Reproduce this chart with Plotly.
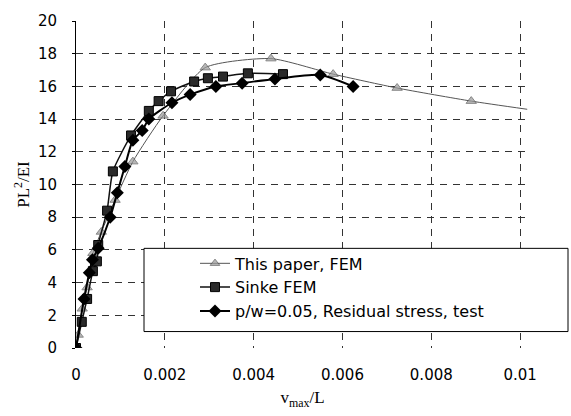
import plotly.graph_objects as go

# This paper, FEM (triangles)
tri_v = [0, 0.00005, 0.00014, 0.00025, 0.00038, 0.00057, 0.00088, 0.00128, 0.00196,
         0.00291, 0.00439, 0.00579, 0.00723, 0.0089, 0.01016]
tri_p = [0, 0.8, 2.4, 3.7, 5.8, 7.1, 9.05, 11.4, 14.2,
         17.15, 17.7, 16.75, 15.9, 15.1, 14.6]

# Sinke FEM (squares)
sq_v = [0, 0.00013, 0.00025, 0.00038, 0.00047, 0.0005, 0.0007, 0.00083, 0.00124,
        0.00164, 0.00186, 0.00214, 0.00266, 0.00297, 0.00331, 0.00387, 0.00466]
sq_p = [0, 1.6, 3.0, 4.7, 5.3, 6.3, 8.4, 10.8, 13.0,
        14.5, 15.1, 15.7, 16.3, 16.5, 16.6, 16.8, 16.75]

# p/w=0.05, Residual stress, test (diamonds)
dm_v = [0, 0.00018, 0.0003, 0.00037, 0.0005, 0.00077, 0.00093, 0.0011, 0.00128,
        0.00149, 0.00164, 0.00216, 0.00257, 0.00315, 0.00374, 0.00448, 0.0055, 0.00624]
dm_p = [0, 3.0, 4.6, 5.4, 6.1, 8.0, 9.5, 11.1, 12.7,
        13.3, 14.0, 15.0, 15.5, 16.0, 16.2, 16.45, 16.7, 16.0]

names = ["This paper, FEM", "Sinke FEM", "p/w=0.05, Residual stress, test"]
x_ticks = [0, 0.002, 0.004, 0.006, 0.008, 0.01]
x_tick_text = ["0", "0.002", "0.004", "0.006", "0.008", "0.01"]
y_ticks = list(range(0, 21, 2))

fig = go.Figure()
tri_sizes = [9] * (len(tri_v) - 1) + [0]
fig.add_trace(go.Scatter(
    x=tri_v, y=tri_p, name=names[0], mode="lines+markers",
    line=dict(color="#555555", width=1, shape="spline", smoothing=0.6),
    marker=dict(symbol="triangle-up", size=tri_sizes, color="#9a9a9a",
                line=dict(color="#555555", width=1)),
))
fig.add_trace(go.Scatter(
    x=sq_v, y=sq_p, name=names[1], mode="lines+markers",
    line=dict(color="#111111", width=1.5, shape="spline", smoothing=0.6),
    marker=dict(symbol="square", size=9, color="#2a2a2a",
                line=dict(color="#000000", width=1)),
))
fig.add_trace(go.Scatter(
    x=dm_v, y=dm_p, name=names[2], mode="lines+markers",
    line=dict(color="#000000", width=2, shape="spline", smoothing=0.6),
    marker=dict(symbol="diamond", size=10, color="#000000"),
))

L, R, T, B = 76, 42, 12, 66
W, H = 571, 416
pw = W - L - R
ph = H - T - B

def px_x(p):
    return (p - L) / pw

def px_y(p):
    return (H - B - p) / ph

fig.add_shape(type="rect", xref="paper", yref="paper",
              x0=px_x(144), x1=px_x(568), y0=px_y(333), y1=px_y(247),
              fillcolor="white", line=dict(color="black", width=1), layer="above")

grid = dict(showgrid=True, gridcolor="#333333", gridwidth=1, griddash="7px,6px")

fig.update_layout(
    width=W, height=H,
    margin=dict(l=L, r=R, t=T, b=B, pad=0),
    paper_bgcolor="white", plot_bgcolor="white",
    font=dict(family="DejaVu Sans", size=15, color="black"),
    showlegend=True,
    legend=dict(x=px_x(195), y=px_y(245), xanchor="left", yanchor="top",
                bgcolor="rgba(0,0,0,0)", borderwidth=0,
                font=dict(family="DejaVu Sans", size=16, color="black"),
                tracegroupgap=0),
    xaxis=dict(range=[0, 0.0102], tickvals=x_ticks, ticktext=x_tick_text,
               showline=False, zeroline=False, ticks="", ticklabelstandoff=16,
               title=dict(text="v<sub>max</sub>/L", standoff=8,
                          font=dict(family="Liberation Serif", size=17)),
               **grid),
    yaxis=dict(range=[0, 20], tickvals=y_ticks, showline=True, linecolor="black",
               linewidth=1, zeroline=False, ticks="outside", ticklen=3,
               tickcolor="black", ticklabelstandoff=12,
               title=dict(text="PL<sup>2</sup>/EI", standoff=3,
                          font=dict(family="Liberation Serif", size=17)),
               **grid),
)

fig.write_html("out.html")
